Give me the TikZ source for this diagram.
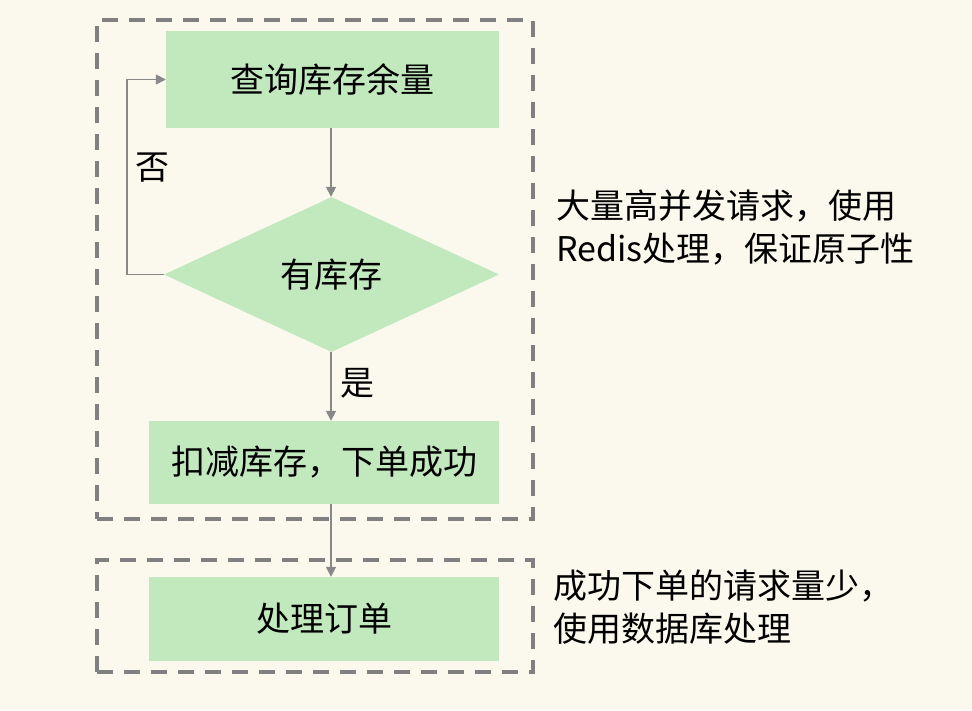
\documentclass[tikz,border=0pt]{standalone}
\usepackage{fontspec}
\setmainfont{Noto Sans CJK SC}
\usetikzlibrary{shapes.geometric,arrows.meta}
\definecolor{bgc}{RGB}{251,249,238}
\definecolor{boxg}{RGB}{194,232,189}
\definecolor{dashg}{RGB}{128,128,128}
\definecolor{arrg}{RGB}{136,136,136}
\tikzset{
  stepbox/.style={fill=boxg, draw=none, inner sep=0pt, font=\fontsize{34}{40}\selectfont},
  decision/.style={diamond, fill=boxg, draw=none, inner sep=0pt, font=\fontsize{34}{40}\selectfont},
  groupbox/.style={draw=dashg, line width=4pt, dash pattern=on 16pt off 11pt, fill=none, inner sep=0pt},
  arr/.style={draw=arrg, line width=1.5pt, -{Triangle[length=10pt,width=10pt]}},
  lbl/.style={font=\fontsize{34}{40}\selectfont, inner sep=0pt},
  note/.style={font=\fontsize{34}{43}\selectfont, align=left, anchor=west, inner sep=0pt},
}
\begin{document}
\begin{tikzpicture}[x=1pt,y=-1pt]
\fill[bgc] (0,0) rectangle (972,710);
\useasboundingbox (0,0) rectangle (972,710);
\node[groupbox, minimum width=436pt, minimum height=499pt] (g1) at (315,269.5) {};
\node[groupbox, minimum width=436pt, minimum height=112pt] (g2) at (315,616) {};
\node[stepbox, minimum width=333pt, minimum height=97pt] (b1) at (332.5,79.5) {查询库存余量};
\node[decision, minimum width=335pt, minimum height=155pt] (d) at (331.5,274.5) {有库存};
\node[stepbox, minimum width=350pt, minimum height=83pt] (b3) at (324,462.5) {扣减库存，下单成功};
\node[stepbox, minimum width=350pt, minimum height=84pt] (b4) at (324,619) {处理订单};
\draw[arr] (b1.south -| 331,0) -- (d.north -| 331,0);
\draw[arr] (d.south -| 331,0) -- (b3.north -| 331,0);
\draw[arr] (b3.south -| 331,0) -- (b4.north -| 331,0);
\draw[arr] (d.west) -- ++(-37,0) |- (b1.west);
\node[lbl] (no) at (152,168) {否};
\node[lbl] (yes) at (357,383) {是};
\node[note] (n1) at (556,227) {大量高并发请求，使用\\Redis处理，保证原子性};
\node[note] (n2) at (553,607) {成功下单的请求量少，\\使用数据库处理};
\end{tikzpicture}
\end{document}
